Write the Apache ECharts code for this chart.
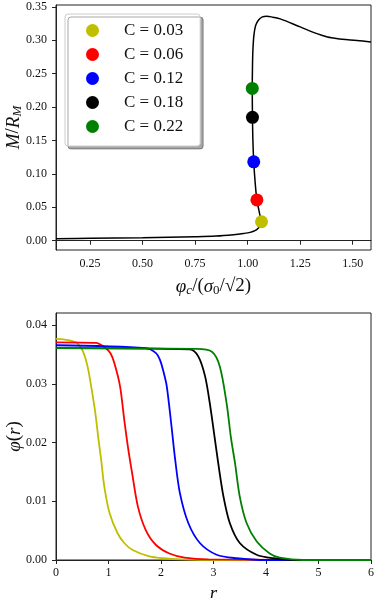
<!DOCTYPE html>
<html>
<head>
<meta charset="utf-8">
<script src="https://cdn.jsdelivr.net/npm/echarts@6/dist/echarts.min.js"></script>
<style>html,body{margin:0;padding:0;background:#fff}#c{width:374px;height:598px}</style>
</head>
<body>
<div id="c"></div>
<script>
// ---- Top panel: M/R_M vs phi_c/(sigma0/sqrt2)
const phiC = [0.088,0.25,0.5,0.75,0.85,0.932,0.98,1.012,1.035,1.050,1.060,1.066,1.060,1.054,1.044,1.036,1.029,1.025,1.023,1.022,1.023,1.025,1.030,1.038,1.051,1.070,1.091,1.120,1.155,1.25,1.33,1.38,1.409,1.45,1.52,1.587];
const massRatio = [0.0030,0.0035,0.0045,0.0060,0.0070,0.0090,0.0108,0.0125,0.0150,0.0185,0.0235,0.0284,0.0360,0.0450,0.0610,0.0860,0.1180,0.1500,0.1847,0.2280,0.2600,0.2850,0.3080,0.3220,0.3300,0.3350,0.3360,0.3345,0.3320,0.3200,0.3100,0.3050,0.3035,0.3015,0.2998,0.2975];
const cLabels = ['C = 0.03','C = 0.06','C = 0.12','C = 0.18','C = 0.22'];
const cColors = ['#bfbf00','#ff0000','#0000ff','#000000','#008000'];
const dotPhi = [1.066,1.044,1.029,1.023,1.022];
const dotMass = [0.0284,0.0610,0.1180,0.1847,0.2280];
const topXTicks = [0.25,0.50,0.75,1.00,1.25,1.50];
const topYTicks = [0.00,0.05,0.10,0.15,0.20,0.25,0.30,0.35];

// ---- Bottom panel: phi(r) profiles
const r003 = [0,0.15,0.38,0.50,0.57,0.62,0.67,0.75,0.81,0.86,0.92,1.02,1.17,1.30,1.46,1.78,2.03,2.40,3.0,6.0];
const p003 = [0.0377,0.0376,0.0371,0.0358,0.0341,0.0322,0.0296,0.0250,0.0205,0.0171,0.0125,0.0080,0.0046,0.0029,0.0017,0.0006,0.0003,0.0001,0,0];
const r006 = [0,0.76,0.95,1.04,1.11,1.22,1.30,1.37,1.45,1.56,1.71,1.90,2.16,2.45,2.9,6.0];
const p006 = [0.0371,0.0370,0.0361,0.0352,0.0336,0.0296,0.0239,0.0193,0.0148,0.0091,0.0051,0.0026,0.0011,0.0004,0.0001,0];
const r012 = [0,1.71,1.90,1.98,2.05,2.11,2.20,2.27,2.36,2.52,2.74,3.06,3.44,4.0,6.0];
const p012 = [0.0366,0.0361,0.0353,0.0341,0.0320,0.0296,0.0228,0.0171,0.0114,0.0063,0.0029,0.0009,0.0003,0,0];
const r018 = [0,2.55,2.71,2.84,2.93,3.02,3.09,3.19,3.31,3.50,3.82,4.14,4.6,6.0];
const p018 = [0.0361,0.0359,0.0347,0.0313,0.0267,0.0210,0.0165,0.0108,0.0063,0.0029,0.0009,0.0003,0,0];
const r022 = [0,2.68,2.97,3.12,3.25,3.33,3.41,3.50,3.63,3.82,4.07,4.26,4.7,6.0];
const p022 = [0.0361,0.0360,0.0355,0.0330,0.0267,0.0210,0.0165,0.0108,0.0063,0.0032,0.0011,0.0004,0,0];
const botXTicks = [0,1,2,3,4,5,6];
const botYTicks = [0.00,0.01,0.02,0.03,0.04];

const zip = (a,b) => a.map((v,i)=>[v,b[i]]);
const FONT = 'Liberation Serif';
const tickFont = {fontFamily: FONT, fontSize: 12, color: '#111'};
const nameRich = {
  i: {fontFamily: FONT, fontStyle: 'italic', fontSize: 19, color: '#111'},
  n: {fontFamily: FONT, fontSize: 19, color: '#111'},
  s: {fontFamily: FONT, fontStyle: 'italic', fontSize: 13, color: '#111', padding: [8,0,0,0]},
  sn: {fontFamily: FONT, fontSize: 13, color: '#111', padding: [8,0,0,0]}
};
function axisCommon(ticks, fmt, margin) {
  return {
    nameMoveOverlap: false,
    axisLine: {show: true, lineStyle: {color: '#222', width: 1}},
    axisTick: {show: true, inside: false, length: 4, lineStyle: {color: '#222'}, customValues: ticks},
    axisLabel: Object.assign({margin: margin, customValues: ticks, formatter: v => fmt(v)}, tickFont),
    splitLine: {show: false}
  };
}

const series = [];
series.push({type: 'line', xAxisIndex: 0, yAxisIndex: 0, data: zip(phiC, massRatio), showSymbol: false, smooth: 0.35,
  lineStyle: {color: '#000', width: 1.5}, itemStyle: {color: '#000'}, silent: true, z: 2, name: 'curve'});
cLabels.forEach((lab, i) => {
  series.push({type: 'scatter', name: lab, xAxisIndex: 0, yAxisIndex: 0, data: [[dotPhi[i], dotMass[i]]],
    symbolSize: 13, itemStyle: {color: cColors[i], opacity: 1}, z: 3});
});
const prof = [[r003,p003],[r006,p006],[r012,p012],[r018,p018],[r022,p022]];
prof.forEach((p, i) => {
  series.push({type: 'line', name: 'phi ' + cLabels[i], xAxisIndex: 1, yAxisIndex: 1, data: zip(p[0], p[1]),
    showSymbol: false, smooth: 0.3, lineStyle: {color: cColors[i], width: 1.8}, z: 2 + i});
});

const option = {
  animation: false,
  backgroundColor: '#fff',
  grid: [
    {left: 56, top: 5, width: 315, height: 245, show: true, borderColor: '#222', borderWidth: 1, backgroundColor: 'transparent', containLabel: false, outerBoundsMode: 'none'},
    {left: 56, top: 313, width: 315, height: 247, show: true, borderColor: '#222', borderWidth: 1, backgroundColor: 'transparent', containLabel: false, outerBoundsMode: 'none'}
  ],
  legend: {
    data: cLabels.map(n => ({name: n, icon: 'circle'})),
    orient: 'vertical', left: 65, top: 14,
    itemWidth: 13, itemHeight: 13, itemGap: 7,
    padding: [8, 17, 11, 21],
    backgroundColor: '#fff', borderColor: '#ccc', borderWidth: 1, borderRadius: 3,
    shadowColor: 'rgba(0,0,0,0.35)', shadowOffsetX: 3, shadowOffsetY: 3, shadowBlur: 0,
    selectedMode: false,
    textStyle: {fontFamily: FONT, fontSize: 17, color: '#111', padding: [0, 0, 0, 20]}
  },
  xAxis: [
    Object.assign({type: 'value', gridIndex: 0, min: 0.088, max: 1.587,
      name: '{i|φ}{s|c}{n|/(}{i|σ}{sn|0}{n|/√2)}', nameLocation: 'middle', nameGap: 26,
      nameTextStyle: {rich: nameRich}}, axisCommon(topXTicks, v => v.toFixed(2), 8)),
    Object.assign({type: 'value', gridIndex: 1, min: 0, max: 6,
      name: '{i|r}', nameLocation: 'middle', nameGap: 24,
      nameTextStyle: {rich: nameRich}}, axisCommon(botXTicks, v => String(Math.round(v)), 7))
  ],
  yAxis: [
    Object.assign({type: 'value', gridIndex: 0, min: -0.0139, max: 0.3528,
      name: '{i|M}{n|/}{i|R}{s|M}', nameLocation: 'middle', nameGap: 32, nameRotate: 90,
      nameTextStyle: {rich: nameRich}}, axisCommon(topYTicks, v => v.toFixed(2), 9)),
    Object.assign({type: 'value', gridIndex: 1, min: 0, max: 0.0421,
      name: '{i|φ}{n|(}{i|r}{n|)}', nameLocation: 'middle', nameGap: 32, nameRotate: 90,
      nameTextStyle: {rich: nameRich}}, axisCommon(botYTicks, v => v.toFixed(2), 9))
  ],
  series: series
};
const chart = echarts.init(document.getElementById('c'), null, {renderer: 'canvas'});
chart.setOption(option);
</script>
</body>
</html>
